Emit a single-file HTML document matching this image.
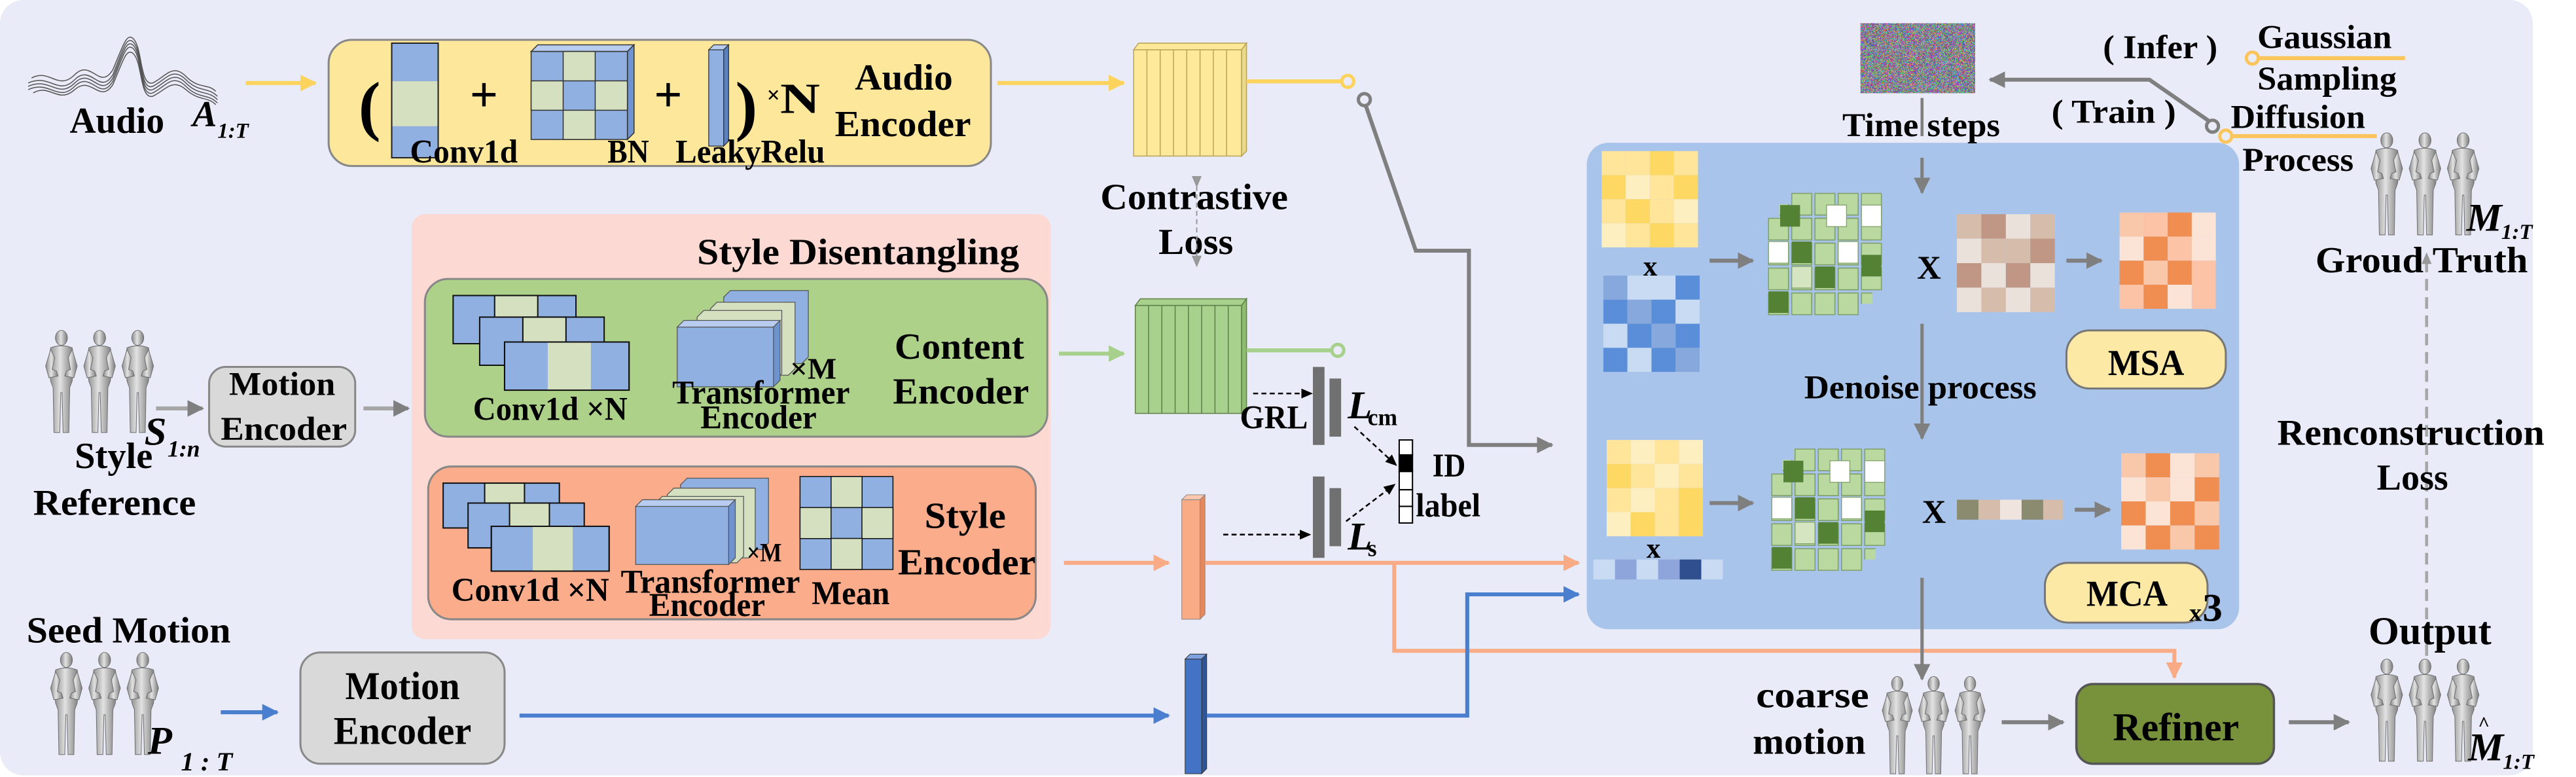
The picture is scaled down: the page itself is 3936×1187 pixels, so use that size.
<!DOCTYPE html>
<html><head><meta charset="utf-8"><style>
html,body{margin:0;padding:0;background:#fff;}
svg{display:block;}
text{font-family:"Liberation Serif",serif;font-weight:bold;fill:#000;}
.i{font-style:italic;}
</style></head><body>
<svg width="3936" height="1187" viewBox="0 0 1552 468" preserveAspectRatio="none" xmlns="http://www.w3.org/2000/svg">
<defs>
<marker id="ag" markerUnits="userSpaceOnUse" markerWidth="12" markerHeight="12" refX="9" refY="6" orient="auto"><path d="M0,1 L10,6 L0,11 Z" fill="#7f7f7f"/></marker>
<marker id="ay" markerUnits="userSpaceOnUse" markerWidth="12" markerHeight="12" refX="9" refY="6" orient="auto"><path d="M0,1 L10,6 L0,11 Z" fill="#fbd35d"/></marker>
<marker id="ao" markerUnits="userSpaceOnUse" markerWidth="12" markerHeight="12" refX="9" refY="6" orient="auto"><path d="M0,1 L10,6 L0,11 Z" fill="#f8ab84"/></marker>
<marker id="ab" markerUnits="userSpaceOnUse" markerWidth="12" markerHeight="12" refX="9" refY="6" orient="auto"><path d="M0,1 L10,6 L0,11 Z" fill="#4a7fd0"/></marker>
<marker id="agr" markerUnits="userSpaceOnUse" markerWidth="12" markerHeight="12" refX="9" refY="6" orient="auto"><path d="M0,1 L10,6 L0,11 Z" fill="#a8d08d"/></marker>
<marker id="ak" markerUnits="userSpaceOnUse" markerWidth="8" markerHeight="8" refX="6" refY="4" orient="auto"><path d="M0,1 L7,4 L0,7 Z" fill="#000"/></marker>
<marker id="agd" markerUnits="userSpaceOnUse" markerWidth="8" markerHeight="8" refX="6" refY="4" orient="auto"><path d="M0,1 L7,4 L0,7 Z" fill="#999"/></marker>
<linearGradient id="skin" x1="0" x2="1"><stop offset="0" stop-color="#8a8a8a"/><stop offset="0.45" stop-color="#e2e2e2"/><stop offset="1" stop-color="#7a7a7a"/></linearGradient>
<symbol id="fig" viewBox="0 0 20 64">
<g fill="url(#skin)" stroke="#6e6e6e" stroke-width="0.4">
<ellipse cx="10" cy="5" rx="3.6" ry="4.5"/>
<path d="M3.5,11 Q10,8.5 16.5,11 L17.5,19 L16.5,31 L15,35 L14.5,62 L11,62 L10.4,38 L9.6,38 L9,62 L5.5,62 L5,35 L3.5,31 L2.5,19 Z"/>
<path d="M3.5,12 L0.5,22 L2.5,29 L8,28 L7,25 L4.5,24 L6,17 Z"/>
<path d="M16.5,12 L19.5,22 L17.5,29 L12,28 L13,25 L15.5,24 L14,17 Z"/>
</g>
</symbol>
<symbol id="figs" viewBox="0 0 66 64">
<use href="#fig" x="0" y="0" width="20" height="64"/>
<use href="#fig" x="23" y="0" width="20" height="64"/>
<use href="#fig" x="46" y="0" width="20" height="64"/>
</symbol>
<pattern id="gp" width="14" height="15" patternUnits="userSpaceOnUse"><rect x="0.5" y="0.5" width="12" height="13" fill="#b9d9a0" stroke="#7f9f68" stroke-width="0.6"/></pattern>
<g id="clus">
<rect x="14" y="0" width="56" height="60" fill="url(#gp)"/>
<rect x="7" y="7" width="56" height="60" fill="url(#gp)"/>
<rect x="0" y="14" width="56" height="60" fill="url(#gp)"/>
<rect x="56.5" y="7.5" width="12" height="13" fill="#fff" stroke="#7f9f68" stroke-width="0.5"/>
<rect x="56.5" y="37.5" width="12" height="13" fill="#548235"/>
<rect x="7.5" y="7.5" width="12" height="13" fill="#548235"/>
<rect x="0.5" y="29.5" width="12" height="13" fill="#fff" stroke="#7f9f68" stroke-width="0.5"/>
<rect x="14.5" y="29.5" width="12" height="13" fill="#548235"/>
<rect x="42.5" y="29.5" width="12" height="13" fill="#fff" stroke="#7f9f68" stroke-width="0.5"/>
<rect x="28.5" y="44.5" width="12" height="13" fill="#548235"/>
<rect x="14.5" y="44.5" width="12" height="13" fill="#d5e5c2" stroke="#7f9f68" stroke-width="0.5"/>
<rect x="0.5" y="59.5" width="12" height="13" fill="#548235"/>
<rect x="35.5" y="7.5" width="12" height="13" fill="#fff" stroke="#7f9f68" stroke-width="0.5"/>
</g>
<filter id="noise" x="0" y="0" width="1" height="1" color-interpolation-filters="sRGB"><feTurbulence type="turbulence" baseFrequency="1.2" numOctaves="2" seed="3"/><feColorMatrix type="matrix" values="2.2 -0.4 -0.4 0 0.2  -0.4 2.2 -0.4 0 0.2  -0.4 -0.4 2.2 0 0.25  0 0 0 0 1"/></filter>
</defs>

<rect x="0" y="0" width="1526" height="467" rx="14" fill="#e9ecf8"/>

<!-- waveform -->
<g fill="none" stroke="#555" stroke-width="0.6">
<path d="M17,50 C30,44 35,58 45,48 C55,38 60,58 68,45 C74,30 76,22 80,25 C86,30 84,55 92,52 C100,48 104,40 112,48 C120,56 125,52 131,58"/>
<path d="M17,52 C30,46 35,60 45,50 C55,40 60,60 68,47 C74,32 76,24 80,27 C86,32 84,57 92,54 C100,50 104,42 112,50 C120,58 125,54 131,60"/>
<path d="M17,54 C30,48 35,62 45,52 C55,42 60,62 68,49 C74,34 76,26 80,29 C86,34 84,59 92,56 C100,52 104,44 112,52 C120,60 125,56 131,62"/>
<path d="M19,47 C30,41 35,55 45,45 C55,35 60,55 68,42 C74,28 76,20 80,23 C86,28 84,52 92,50 C100,46 104,38 112,46 C120,54 125,50 130,55"/>
<path d="M20,56 C30,50 35,63 45,54 C55,45 60,63 68,51 C74,37 76,29 80,32 C86,37 84,60 92,58 C100,54 104,47 112,54 C120,61 125,58 130,63"/>
</g>
<text x="42" y="80" font-size="22" textLength="57" lengthAdjust="spacingAndGlyphs">Audio</text>
<text x="116" y="76" font-size="22" class="i" font-weight="normal">A</text>
<text x="131" y="83" font-size="13" class="i" font-weight="normal">1:T</text>
<line x1="148" y1="50" x2="190" y2="50" stroke="#fbd35d" stroke-width="2.4" marker-end="url(#ay)"/>

<!-- audio encoder -->
<rect x="198" y="24" width="399" height="76" rx="14" fill="#fde79a" stroke="#888" stroke-width="1.2"/>
<text x="216" y="77" font-size="40" font-weight="normal">(</text>
<rect x="236" y="26" width="28" height="23" fill="#8fb0e0"/><rect x="236" y="49" width="28" height="27" fill="#d5e0c0"/><rect x="236" y="76" width="28" height="19" fill="#8fb0e0"/>
<rect x="236" y="26" width="28" height="69" fill="none" stroke="#222" stroke-width="0.8"/>
<text x="283" y="67" font-size="30">+</text>
<g stroke="#333" stroke-width="0.6">
<path d="M320,31 L324,27 L382,27 L378,31 Z" fill="#b7ccef"/><path d="M378,31 L382,27 L382,80 L378,84 Z" fill="#6f93cf"/>
<rect x="320" y="31" width="58" height="53" fill="#8fb0e0"/>
<rect x="339.3" y="31" width="19.3" height="17.7" fill="#d5e0c0"/>
<rect x="320" y="48.7" width="19.3" height="17.7" fill="#d5e0c0"/><rect x="358.6" y="48.7" width="19.4" height="17.7" fill="#d5e0c0"/>
<rect x="339.3" y="66.4" width="19.3" height="17.6" fill="#d5e0c0"/>
</g>
<text x="394" y="67" font-size="30">+</text>
<path d="M427,30 L430,27 L439,27 L436,30 Z" fill="#b7ccef" stroke="#333" stroke-width="0.5"/>
<path d="M436,30 L439,27 L439,85 L436,88 Z" fill="#5a80c4" stroke="#333" stroke-width="0.5"/>
<rect x="427" y="30" width="9" height="58" fill="#8fb0e0" stroke="#333" stroke-width="0.5"/>
<text x="443" y="77" font-size="40" font-weight="normal">)</text>
<text x="462" y="62" font-size="14" font-weight="normal">×</text>
<text x="470" y="68" font-size="26" textLength="24" lengthAdjust="spacingAndGlyphs">N</text>
<text x="515" y="54" font-size="22" textLength="59" lengthAdjust="spacingAndGlyphs">Audio</text>
<text x="503" y="82" font-size="22" textLength="82" lengthAdjust="spacingAndGlyphs">Encoder</text>
<text x="247" y="98" font-size="20" textLength="65" lengthAdjust="spacingAndGlyphs">Conv1d</text>
<text x="366" y="98" font-size="20" textLength="25" lengthAdjust="spacingAndGlyphs">BN</text>
<text x="407" y="98" font-size="20" textLength="90" lengthAdjust="spacingAndGlyphs">LeakyRelu</text>

<line x1="601" y1="50" x2="677" y2="50" stroke="#fbd35d" stroke-width="2.4" marker-end="url(#ay)"/>
<g stroke="#b9a458" stroke-width="0.6">
<path d="M683,30 L686,26 L751,26 L748,30 Z" fill="#fde99a"/>
<path d="M748,30 L751,26 L751,91 L748,94 Z" fill="#ead98a"/>
<rect x="683" y="30" width="65" height="64" fill="#fde99a"/>
<path d="M691,30V94M699,30V94M707,30V94M715,30V94M723,30V94M731,30V94M739,30V94" fill="none"/>
</g>
<text x="663" y="126" font-size="22" textLength="113" lengthAdjust="spacingAndGlyphs">Contrastive</text>
<text x="698" y="153" font-size="22" textLength="45" lengthAdjust="spacingAndGlyphs">Loss</text>
<line x1="721" y1="112" x2="721" y2="160" stroke="#999" stroke-width="0.8" stroke-dasharray="3,2" marker-start="url(#agd)" marker-end="url(#agd)"/>

<rect x="248" y="129" width="385" height="256" rx="8" fill="#fdd9d4"/>
<text x="420" y="159" font-size="22" textLength="194" lengthAdjust="spacingAndGlyphs">Style  Disentangling</text>

<rect x="256" y="168" width="375" height="95" rx="14" fill="#aed18a" stroke="#888" stroke-width="1.2"/>
<g stroke="#111" stroke-width="0.8">
<rect x="273" y="178" width="74" height="29" fill="#8fb0e0"/><rect x="298" y="178" width="26" height="29" fill="#d5e0c0"/>
<rect x="289" y="191" width="75" height="29" fill="#8fb0e0"/><rect x="315" y="191" width="26" height="29" fill="#d5e0c0"/>
<rect x="304" y="206" width="75" height="29" fill="#8fb0e0"/><rect x="330" y="206" width="26" height="29" fill="#d5e0c0" stroke="none"/>
<rect x="304" y="206" width="75" height="29" fill="none"/>
</g>
<g stroke="#555" stroke-width="0.5">
<path d="M436,179 L440,175 L487,175 L487,215 L483,219 L436,219 Z" fill="#8fb0e0"/>
<path d="M428,186 L432,182 L479,182 L479,222 L475,226 L428,226 Z" fill="#d5e0c0"/>
<path d="M420,191 L424,187 L471,187 L471,225 L467,229 L420,229 Z" fill="#d5e0c0"/>
<path d="M408,197 L412,193 L470,193 L466,197 Z" fill="#b7ccef"/>
<path d="M466,197 L470,193 L470,229 L466,233 Z" fill="#6f93cf"/>
<rect x="408" y="197" width="58" height="36" fill="#8fb0e0"/>
</g>
<text x="476" y="228" font-size="18" textLength="28" lengthAdjust="spacingAndGlyphs">×M</text>
<text x="405" y="243" font-size="20" textLength="107" lengthAdjust="spacingAndGlyphs">Transformer</text>
<text x="422" y="258" font-size="20" textLength="70" lengthAdjust="spacingAndGlyphs">Encoder</text>
<text x="285" y="253" font-size="20" textLength="93" lengthAdjust="spacingAndGlyphs">Conv1d ×N</text>
<text x="539" y="216" font-size="22" textLength="78" lengthAdjust="spacingAndGlyphs">Content</text>
<text x="538" y="243" font-size="22" textLength="82" lengthAdjust="spacingAndGlyphs">Encoder</text>

<rect x="258" y="281" width="366" height="92" rx="14" fill="#fbac8a" stroke="#888" stroke-width="1.2"/>
<g stroke="#111" stroke-width="0.8">
<rect x="267" y="291" width="70" height="27" fill="#8fb0e0"/><rect x="292" y="291" width="24" height="27" fill="#d5e0c0"/>
<rect x="282" y="303" width="70" height="27" fill="#8fb0e0"/><rect x="307" y="303" width="24" height="27" fill="#d5e0c0"/>
<rect x="296" y="317" width="71" height="27" fill="#8fb0e0"/><rect x="321" y="317" width="24" height="27" fill="#d5e0c0" stroke="none"/>
<rect x="296" y="317" width="71" height="27" fill="none"/>
</g>
<g stroke="#555" stroke-width="0.5">
<path d="M410,292 L414,288 L463,288 L463,327 L459,331 L410,331 Z" fill="#8fb0e0"/>
<path d="M402,298 L406,294 L455,294 L455,332 L451,336 L402,336 Z" fill="#d5e0c0"/>
<path d="M395,303 L399,299 L448,299 L448,335 L444,339 L395,339 Z" fill="#d5e0c0"/>
<path d="M383,305 L387,301 L443,301 L439,305 Z" fill="#b7ccef"/>
<path d="M439,305 L443,301 L443,336 L439,340 Z" fill="#6f93cf"/>
<rect x="383" y="305" width="56" height="35" fill="#8fb0e0"/>
</g>
<g stroke="#111" stroke-width="0.6">
<rect x="482" y="287" width="56" height="56" fill="#8fb0e0"/>
<rect x="500.7" y="287" width="18.7" height="18.7" fill="#d5e0c0"/>
<rect x="482" y="305.7" width="18.7" height="18.7" fill="#d5e0c0"/><rect x="519.3" y="305.7" width="18.7" height="18.7" fill="#d5e0c0"/>
<rect x="500.7" y="324.3" width="18.7" height="18.7" fill="#d5e0c0"/>
</g>
<text x="450" y="338" font-size="16" textLength="21" lengthAdjust="spacingAndGlyphs">×M</text>
<text x="374" y="357" font-size="20" textLength="108" lengthAdjust="spacingAndGlyphs">Transformer</text>
<text x="391" y="371" font-size="20" textLength="70" lengthAdjust="spacingAndGlyphs">Encoder</text>
<text x="272" y="362" font-size="20" textLength="95" lengthAdjust="spacingAndGlyphs">Conv1d ×N</text>
<text x="489" y="364" font-size="20" textLength="47" lengthAdjust="spacingAndGlyphs">Mean</text>
<text x="557" y="318" font-size="22" textLength="49" lengthAdjust="spacingAndGlyphs">Style</text>
<text x="541" y="346" font-size="22" textLength="83" lengthAdjust="spacingAndGlyphs">Encoder</text>

<use href="#figs" x="27" y="198" width="66" height="65"/>
<text x="87" y="268" font-size="24" class="i">S</text>
<text x="101" y="275" font-size="14" class="i" font-weight="normal">1:n</text>
<text x="45" y="282" font-size="22" textLength="47" lengthAdjust="spacingAndGlyphs">Style</text>
<text x="20" y="310" font-size="22" textLength="98" lengthAdjust="spacingAndGlyphs">Reference</text>
<line x1="94" y1="246" x2="122" y2="246" stroke="#a6a6a6" stroke-width="2.4" marker-end="url(#ag)"/>
<rect x="126" y="221" width="88" height="48" rx="10" fill="#d9d9d9" stroke="#888" stroke-width="1.2"/>
<text x="138" y="238" font-size="20" textLength="64" lengthAdjust="spacingAndGlyphs">Motion</text>
<text x="133" y="265" font-size="20" textLength="76" lengthAdjust="spacingAndGlyphs">Encoder</text>
<line x1="219" y1="246" x2="246" y2="246" stroke="#a6a6a6" stroke-width="2.4" marker-end="url(#ag)"/>

<text x="16" y="387" font-size="22" textLength="123" lengthAdjust="spacingAndGlyphs">Seed Motion</text>
<use href="#figs" x="30" y="392" width="66" height="65"/>
<text x="89" y="454" font-size="24" class="i">P</text>
<text x="109" y="464" font-size="16" class="i" font-weight="normal">1 : T</text>
<line x1="133" y1="429" x2="167" y2="429" stroke="#4a7fd0" stroke-width="2.4" marker-end="url(#ab)"/>
<rect x="181" y="393" width="123" height="67" rx="12" fill="#d9d9d9" stroke="#888" stroke-width="1.2"/>
<text x="208" y="421" font-size="24" textLength="69" lengthAdjust="spacingAndGlyphs">Motion</text>
<text x="201" y="448" font-size="24" textLength="83" lengthAdjust="spacingAndGlyphs">Encoder</text>
<line x1="313" y1="431" x2="704" y2="431" stroke="#4a7fd0" stroke-width="2.4" marker-end="url(#ab)"/>
<path d="M714,397 L717,394 L727,394 L724,397 Z" fill="#7ea3e0" stroke="#333" stroke-width="0.4"/>
<path d="M724,397 L727,394 L727,463 L724,466 Z" fill="#2f5597" stroke="#333" stroke-width="0.4"/>
<rect x="714" y="397" width="10" height="69" fill="#4472c4" stroke="#333" stroke-width="0.4"/>

<line x1="641" y1="339" x2="704" y2="339" stroke="#f8ab84" stroke-width="2.4" marker-end="url(#ao)"/>
<path d="M712,301 L715,298 L726,298 L723,301 Z" fill="#fbc8ae" stroke="#888" stroke-width="0.4"/>
<path d="M723,301 L726,298 L726,370 L723,373 Z" fill="#e8875a" stroke="#888" stroke-width="0.4"/>
<rect x="712" y="301" width="11" height="72" fill="#f8ab84" stroke="#888" stroke-width="0.4"/>

<line x1="638" y1="213" x2="677" y2="213" stroke="#a8d08d" stroke-width="2.4" marker-end="url(#agr)"/>
<g stroke="#5e7f48" stroke-width="0.6">
<path d="M684,184 L687,180 L751,180 L748,184 Z" fill="#a9d18e"/>
<path d="M748,184 L751,180 L751,246 L748,249 Z" fill="#8fbd70"/>
<rect x="684" y="184" width="64" height="65" fill="#a9d18e"/>
<path d="M692,184V249M700,184V249M708,184V249M716,184V249M724,184V249M732,184V249M740,184V249" fill="none"/>
</g>
<line x1="751" y1="211" x2="802" y2="211" stroke="#a8d08d" stroke-width="2.4"/>
<circle cx="806" cy="211" r="3.6" fill="none" stroke="#a8d08d" stroke-width="2"/>

<line x1="751" y1="49" x2="808" y2="49" stroke="#fbd35d" stroke-width="2.4"/>
<circle cx="812" cy="49" r="3.6" fill="none" stroke="#fbd35d" stroke-width="2"/>
<circle cx="822" cy="60" r="3.6" fill="none" stroke="#7f7f7f" stroke-width="2"/>
<polyline points="823,64 853,151 885,151 885,268 935,268" fill="none" stroke="#7f7f7f" stroke-width="2.4" marker-end="url(#ag)"/>

<line x1="755" y1="237" x2="790" y2="237" stroke="#000" stroke-width="1" stroke-dasharray="3,2" marker-end="url(#ak)"/>
<text x="747" y="258" font-size="20" textLength="41" lengthAdjust="spacingAndGlyphs">GRL</text>
<rect x="791" y="221" width="7" height="47" fill="#707070"/>
<rect x="801" y="228" width="7" height="35" fill="#707070"/>
<text x="812" y="252" font-size="24" class="i">L</text>
<text x="824" y="256" font-size="14">cm</text>
<line x1="737" y1="322" x2="789" y2="322" stroke="#000" stroke-width="1" stroke-dasharray="3,2" marker-end="url(#ak)"/>
<rect x="791" y="287" width="7" height="49" fill="#707070"/>
<rect x="801" y="294" width="7" height="35" fill="#707070"/>
<text x="812" y="331" font-size="24" class="i">L</text>
<text x="824" y="335" font-size="14">s</text>
<line x1="816" y1="257" x2="841" y2="280" stroke="#000" stroke-width="1" stroke-dasharray="3,2" marker-end="url(#ak)"/>
<line x1="811" y1="314" x2="840" y2="292" stroke="#000" stroke-width="1" stroke-dasharray="3,2" marker-end="url(#ak)"/>
<g stroke="#000" stroke-width="0.8" fill="#fff">
<rect x="843" y="265" width="8" height="9"/><rect x="843" y="274" width="8" height="10" fill="#000"/><rect x="843" y="284" width="8" height="11"/><rect x="843" y="295" width="8" height="10"/><rect x="843" y="305" width="8" height="10"/>
</g>
<text x="863" y="287" font-size="20" textLength="20" lengthAdjust="spacingAndGlyphs">ID</text>
<text x="853" y="311" font-size="20" textLength="39" lengthAdjust="spacingAndGlyphs">label</text>

<line x1="726" y1="339" x2="951" y2="339" stroke="#f8ab84" stroke-width="2.4" marker-end="url(#ao)"/>
<polyline points="840,339 840,392 1310,392 1310,408" fill="none" stroke="#f8ab84" stroke-width="2.4" marker-end="url(#ao)"/>
<polyline points="727,431 884,431 884,358 951,358" fill="none" stroke="#4a7fd0" stroke-width="2.4" marker-end="url(#ab)"/>

<rect x="956" y="86" width="393" height="293" rx="13" fill="#a9c4ea"/>
<g>
<rect x="965" y="91" width="14.5" height="14.5" fill="#fee59a"/><rect x="979.5" y="91" width="14.5" height="14.5" fill="#fee59a"/><rect x="994" y="91" width="14.5" height="14.5" fill="#fdd862"/><rect x="1008.5" y="91" width="14.5" height="14.5" fill="#fee59a"/>
<rect x="965" y="105.5" width="14.5" height="14.5" fill="#fdd862"/><rect x="979.5" y="105.5" width="14.5" height="14.5" fill="#feefc0"/><rect x="994" y="105.5" width="14.5" height="14.5" fill="#fee59a"/><rect x="1008.5" y="105.5" width="14.5" height="14.5" fill="#fdd862"/>
<rect x="965" y="120" width="14.5" height="14.5" fill="#fee59a"/><rect x="979.5" y="120" width="14.5" height="14.5" fill="#fdd862"/><rect x="994" y="120" width="14.5" height="14.5" fill="#fee59a"/><rect x="1008.5" y="120" width="14.5" height="14.5" fill="#feefc0"/>
<rect x="965" y="134.5" width="14.5" height="14.5" fill="#feefc0"/><rect x="979.5" y="134.5" width="14.5" height="14.5" fill="#fee59a"/><rect x="994" y="134.5" width="14.5" height="14.5" fill="#fdd862"/><rect x="1008.5" y="134.5" width="14.5" height="14.5" fill="#fee59a"/>
</g>
<text x="990" y="166" font-size="17">x</text>
<g>
<rect x="966" y="166" width="14.5" height="14.5" fill="#86a8dc"/><rect x="980.5" y="166" width="14.5" height="14.5" fill="#c9dbf3"/><rect x="995" y="166" width="14.5" height="14.5" fill="#c9dbf3"/><rect x="1009.5" y="166" width="14.5" height="14.5" fill="#5b8ed8"/>
<rect x="966" y="180.5" width="14.5" height="14.5" fill="#5b8ed8"/><rect x="980.5" y="180.5" width="14.5" height="14.5" fill="#86a8dc"/><rect x="995" y="180.5" width="14.5" height="14.5" fill="#5b8ed8"/><rect x="1009.5" y="180.5" width="14.5" height="14.5" fill="#c9dbf3"/>
<rect x="966" y="195" width="14.5" height="14.5" fill="#c9dbf3"/><rect x="980.5" y="195" width="14.5" height="14.5" fill="#5b8ed8"/><rect x="995" y="195" width="14.5" height="14.5" fill="#86a8dc"/><rect x="1009.5" y="195" width="14.5" height="14.5" fill="#5b8ed8"/>
<rect x="966" y="209.5" width="14.5" height="14.5" fill="#5b8ed8"/><rect x="980.5" y="209.5" width="14.5" height="14.5" fill="#c9dbf3"/><rect x="995" y="209.5" width="14.5" height="14.5" fill="#5b8ed8"/><rect x="1009.5" y="209.5" width="14.5" height="14.5" fill="#86a8dc"/>
</g>
<line x1="1030" y1="157" x2="1056" y2="157" stroke="#7f7f7f" stroke-width="2.4" marker-end="url(#ag)"/>
<use href="#clus" x="1065" y="116"/>
<text x="1155" y="168" font-size="20">X</text>
<g>
<rect x="1179" y="129" width="14.75" height="14.75" fill="#d6bcab"/><rect x="1193.75" y="129" width="14.75" height="14.75" fill="#bf9784"/><rect x="1208.5" y="129" width="14.75" height="14.75" fill="#ebe1db"/><rect x="1223.25" y="129" width="14.75" height="14.75" fill="#d6bcab"/>
<rect x="1179" y="143.75" width="14.75" height="14.75" fill="#ebe1db"/><rect x="1193.75" y="143.75" width="14.75" height="14.75" fill="#d6bcab"/><rect x="1208.5" y="143.75" width="14.75" height="14.75" fill="#d6bcab"/><rect x="1223.25" y="143.75" width="14.75" height="14.75" fill="#bf9784"/>
<rect x="1179" y="158.5" width="14.75" height="14.75" fill="#bf9784"/><rect x="1193.75" y="158.5" width="14.75" height="14.75" fill="#ebe1db"/><rect x="1208.5" y="158.5" width="14.75" height="14.75" fill="#bf9784"/><rect x="1223.25" y="158.5" width="14.75" height="14.75" fill="#ebe1db"/>
<rect x="1179" y="173.25" width="14.75" height="14.75" fill="#ebe1db"/><rect x="1193.75" y="173.25" width="14.75" height="14.75" fill="#d6bcab"/><rect x="1208.5" y="173.25" width="14.75" height="14.75" fill="#ebe1db"/><rect x="1223.25" y="173.25" width="14.75" height="14.75" fill="#d6bcab"/>
</g>
<line x1="1245" y1="157" x2="1266" y2="157" stroke="#7f7f7f" stroke-width="2.4" marker-end="url(#ag)"/>
<g>
<rect x="1277" y="128" width="14.5" height="14.5" fill="#f9c7aa"/><rect x="1291.5" y="128" width="14.5" height="14.5" fill="#fcc3a6"/><rect x="1306" y="128" width="14.5" height="14.5" fill="#f08e52"/><rect x="1320.5" y="128" width="14.5" height="14.5" fill="#fbe3d5"/>
<rect x="1277" y="142.5" width="14.5" height="14.5" fill="#fbe3d5"/><rect x="1291.5" y="142.5" width="14.5" height="14.5" fill="#f08e52"/><rect x="1306" y="142.5" width="14.5" height="14.5" fill="#fcc3a6"/><rect x="1320.5" y="142.5" width="14.5" height="14.5" fill="#fbe3d5"/>
<rect x="1277" y="157" width="14.5" height="14.5" fill="#f08e52"/><rect x="1291.5" y="157" width="14.5" height="14.5" fill="#f9c7aa"/><rect x="1306" y="157" width="14.5" height="14.5" fill="#f08e52"/><rect x="1320.5" y="157" width="14.5" height="14.5" fill="#fcc3a6"/>
<rect x="1277" y="171.5" width="14.5" height="14.5" fill="#fcc3a6"/><rect x="1291.5" y="171.5" width="14.5" height="14.5" fill="#f08e52"/><rect x="1306" y="171.5" width="14.5" height="14.5" fill="#fbe3d5"/><rect x="1320.5" y="171.5" width="14.5" height="14.5" fill="#fcc3a6"/>
</g>
<rect x="1245" y="199" width="96" height="35" rx="14" fill="#fde9a6" stroke="#777" stroke-width="1.2"/>
<text x="1270" y="226" font-size="22" textLength="46" lengthAdjust="spacingAndGlyphs">MSA</text>

<line x1="1158" y1="59" x2="1158" y2="82" stroke="#7f7f7f" stroke-width="1.8"/>
<line x1="1158" y1="95" x2="1158" y2="116" stroke="#7f7f7f" stroke-width="2" marker-end="url(#ag)"/>
<line x1="1158" y1="195" x2="1158" y2="264" stroke="#7f7f7f" stroke-width="2" marker-end="url(#ag)"/>
<text x="1087" y="240" font-size="20" textLength="140" lengthAdjust="spacingAndGlyphs">Denoise process</text>
<line x1="1158" y1="348" x2="1158" y2="409" stroke="#7f7f7f" stroke-width="2" marker-end="url(#ag)"/>

<g>
<rect x="968" y="265" width="14.5" height="14.5" fill="#fee59a"/><rect x="982.5" y="265" width="14.5" height="14.5" fill="#feefc0"/><rect x="997" y="265" width="14.5" height="14.5" fill="#fee59a"/><rect x="1011.5" y="265" width="14.5" height="14.5" fill="#feefc0"/>
<rect x="968" y="279.5" width="14.5" height="14.5" fill="#fdd862"/><rect x="982.5" y="279.5" width="14.5" height="14.5" fill="#fee59a"/><rect x="997" y="279.5" width="14.5" height="14.5" fill="#feefc0"/><rect x="1011.5" y="279.5" width="14.5" height="14.5" fill="#fee59a"/>
<rect x="968" y="294" width="14.5" height="14.5" fill="#fee59a"/><rect x="982.5" y="294" width="14.5" height="14.5" fill="#feefc0"/><rect x="997" y="294" width="14.5" height="14.5" fill="#fee59a"/><rect x="1011.5" y="294" width="14.5" height="14.5" fill="#fdd862"/>
<rect x="968" y="308.5" width="14.5" height="14.5" fill="#feefc0"/><rect x="982.5" y="308.5" width="14.5" height="14.5" fill="#fdd862"/><rect x="997" y="308.5" width="14.5" height="14.5" fill="#fee59a"/><rect x="1011.5" y="308.5" width="14.5" height="14.5" fill="#fdd862"/>
</g>
<text x="992" y="336" font-size="17">x</text>
<g>
<rect x="960" y="337" width="13" height="12" fill="#c9dbf3"/><rect x="973" y="337" width="13" height="12" fill="#8ea5dc"/><rect x="986" y="337" width="13" height="12" fill="#c9dbf3"/><rect x="999" y="337" width="13" height="12" fill="#8ea5dc"/><rect x="1012" y="337" width="13" height="12" fill="#2f4f8f"/><rect x="1025" y="337" width="13" height="12" fill="#c9dbf3"/>
</g>
<line x1="1030" y1="303" x2="1056" y2="303" stroke="#7f7f7f" stroke-width="2.4" marker-end="url(#ag)"/>
<use href="#clus" x="1067" y="270"/>
<text x="1158" y="315" font-size="20">X</text>
<g>
<rect x="1179" y="301" width="13" height="12" fill="#8b8b70"/><rect x="1192" y="301" width="13" height="12" fill="#d6bcab"/><rect x="1205" y="301" width="13" height="12" fill="#f0e4de"/><rect x="1218" y="301" width="13" height="12" fill="#8b8b70"/><rect x="1231" y="301" width="12" height="12" fill="#d6bcab"/>
</g>
<line x1="1250" y1="307" x2="1271" y2="307" stroke="#7f7f7f" stroke-width="2.4" marker-end="url(#ag)"/>
<g>
<rect x="1278" y="273" width="14.75" height="14.5" fill="#f9c7aa"/><rect x="1292.75" y="273" width="14.75" height="14.5" fill="#f08e52"/><rect x="1307.5" y="273" width="14.75" height="14.5" fill="#fbe3d5"/><rect x="1322.25" y="273" width="14.75" height="14.5" fill="#f9c7aa"/>
<rect x="1278" y="287.5" width="14.75" height="14.5" fill="#fbe3d5"/><rect x="1292.75" y="287.5" width="14.75" height="14.5" fill="#f9c7aa"/><rect x="1307.5" y="287.5" width="14.75" height="14.5" fill="#fbe3d5"/><rect x="1322.25" y="287.5" width="14.75" height="14.5" fill="#f08e52"/>
<rect x="1278" y="302" width="14.75" height="14.5" fill="#f08e52"/><rect x="1292.75" y="302" width="14.75" height="14.5" fill="#fbe3d5"/><rect x="1307.5" y="302" width="14.75" height="14.5" fill="#f08e52"/><rect x="1322.25" y="302" width="14.75" height="14.5" fill="#f9c7aa"/>
<rect x="1278" y="316.5" width="14.75" height="14.5" fill="#fbe3d5"/><rect x="1292.75" y="316.5" width="14.75" height="14.5" fill="#f08e52"/><rect x="1307.5" y="316.5" width="14.75" height="14.5" fill="#f9c7aa"/><rect x="1322.25" y="316.5" width="14.75" height="14.5" fill="#f08e52"/>
</g>
<rect x="1232" y="339" width="98" height="36" rx="14" fill="#fde9a6" stroke="#777" stroke-width="1.2"/>
<text x="1257" y="365" font-size="22" textLength="49" lengthAdjust="spacingAndGlyphs">MCA</text>
<text x="1319" y="374" font-size="15">x</text>
<text x="1327" y="374" font-size="24">3</text>

<rect x="1121" y="14" width="69" height="42" fill="#7c7480"/>
<rect x="1121" y="14" width="69" height="42" filter="url(#noise)" opacity="0.75"/>
<text x="1110" y="82" font-size="20" textLength="95" lengthAdjust="spacingAndGlyphs">Time steps</text>
<polyline points="1331,73 1295,48 1199,48" fill="none" stroke="#7f7f7f" stroke-width="2.4" marker-end="url(#ag)"/>
<circle cx="1333" cy="76" r="3.6" fill="none" stroke="#7f7f7f" stroke-width="2"/>
<text x="1267" y="35" font-size="20" textLength="69" lengthAdjust="spacingAndGlyphs">( Infer )</text>
<text x="1236" y="74" font-size="20" textLength="75" lengthAdjust="spacingAndGlyphs">( Train )</text>
<text x="1360" y="29" font-size="20" textLength="81" lengthAdjust="spacingAndGlyphs">Gaussian</text>
<line x1="1361" y1="35" x2="1449" y2="35" stroke="#fbc55e" stroke-width="2.4"/>
<circle cx="1357" cy="35" r="3.6" fill="none" stroke="#fbc55e" stroke-width="2"/>
<text x="1360" y="54" font-size="20" textLength="84" lengthAdjust="spacingAndGlyphs">Sampling</text>
<text x="1344" y="77" font-size="20" textLength="81" lengthAdjust="spacingAndGlyphs">Diffusion</text>
<line x1="1345" y1="82" x2="1432" y2="82" stroke="#fbc55e" stroke-width="2.4"/>
<circle cx="1341" cy="82" r="3.6" fill="none" stroke="#fbc55e" stroke-width="2"/>
<text x="1351" y="103" font-size="20" textLength="67" lengthAdjust="spacingAndGlyphs">Process</text>

<use href="#figs" x="1428" y="79" width="66" height="65"/>
<text x="1486" y="139" font-size="24" class="i">M</text>
<text x="1507" y="144" font-size="13" class="i" font-weight="normal">1:T</text>
<line x1="1462" y1="395" x2="1462" y2="153" stroke="#a6a6a6" stroke-width="1.8" stroke-dasharray="7,4" marker-end="url(#agd)"/>
<text x="1395" y="164" font-size="22" textLength="128" lengthAdjust="spacingAndGlyphs">Groud Truth</text>
<text x="1372" y="268" font-size="22" textLength="161" lengthAdjust="spacingAndGlyphs">Renconstruction</text>
<text x="1432" y="295" font-size="22" textLength="43" lengthAdjust="spacingAndGlyphs">Loss</text>
<text x="1427" y="388" font-size="24" textLength="74" lengthAdjust="spacingAndGlyphs">Output</text>
<use href="#figs" x="1428" y="396" width="66" height="65"/>
<text x="1493" y="440" font-size="12" font-weight="normal">^</text>
<text x="1487" y="458" font-size="24" class="i">M</text>
<text x="1508" y="463" font-size="13" class="i" font-weight="normal">1:T</text>

<text x="1058" y="426" font-size="22" textLength="68" lengthAdjust="spacingAndGlyphs">coarse</text>
<text x="1056" y="454" font-size="22" textLength="68" lengthAdjust="spacingAndGlyphs">motion</text>
<use href="#figs" x="1132" y="407" width="66" height="61"/>
<line x1="1206" y1="435" x2="1243" y2="435" stroke="#7f7f7f" stroke-width="2.4" marker-end="url(#ag)"/>
<rect x="1251" y="412" width="119" height="48" rx="10" fill="#78923c" stroke="#555" stroke-width="1.4"/>
<text x="1273" y="446" font-size="24" textLength="76" lengthAdjust="spacingAndGlyphs">Refiner</text>
<line x1="1379" y1="435" x2="1415" y2="435" stroke="#7f7f7f" stroke-width="2.4" marker-end="url(#ag)"/>
</svg>
</body></html>
